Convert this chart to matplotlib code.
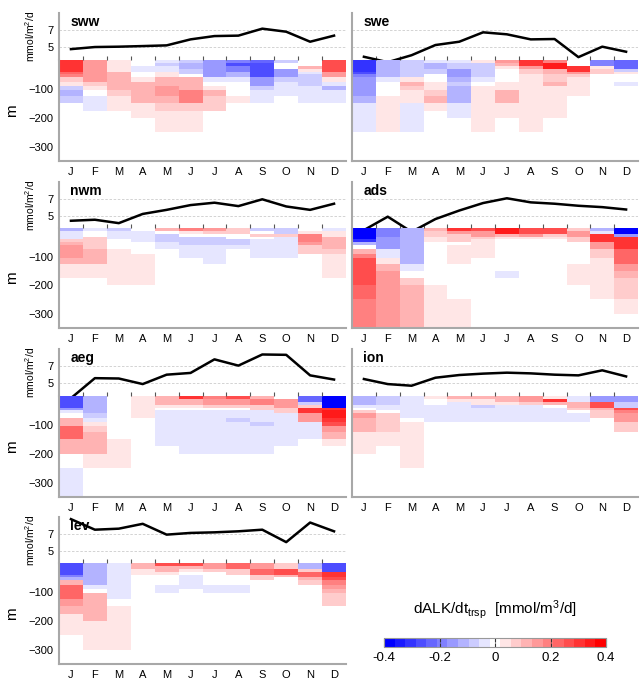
import matplotlib
matplotlib.use("Agg")
import matplotlib.pyplot as plt
import numpy as np
from matplotlib.colors import ListedColormap, BoundaryNorm
from matplotlib.ticker import NullLocator

plt.rcParams['font.family'] = ['Liberation Sans', 'DejaVu Sans']
plt.rcParams['mathtext.default'] = 'regular'

months = ["J", "F", "M", "A", "M", "J", "J", "A", "S", "O", "N", "D"]
depth_edges = [0, 10, 20, 30, 40, 50, 60, 75, 90, 105, 125, 150, 175, 200, 250, 300, 350]
regions = ["sww", "swe", "nwm", "ads", "aeg", "ion", "lev"]

# surface flux line (mmol/m2/d), one value per month
sww_flux = [4.8, 5.04, 5.08, 5.15, 5.23, 5.92, 6.3, 6.35, 7.15, 6.8, 5.65, 6.35]
swe_flux = [3.92, 3.3, 4.1, 5.27, 5.65, 6.73, 6.5, 5.92, 5.96, 3.88, 5.08, 4.5]
nwm_flux = [4.4, 4.52, 4.12, 5.2, 5.68, 6.24, 6.52, 6.12, 6.92, 6.08, 5.68, 6.4]
ads_flux = [3.3, 4.88, 3.1, 4.6, 5.6, 6.48, 7.04, 6.56, 6.4, 6.16, 6.0, 5.72]
aeg_flux = [3.3, 5.6, 5.56, 4.92, 6.0, 6.2, 7.76, 7.04, 8.32, 8.28, 5.92, 5.44]
ion_flux = [5.5, 4.92, 4.73, 5.65, 5.96, 6.12, 6.23, 6.15, 6.0, 5.92, 6.5, 5.8]
lev_flux = [8.7, 7.46, 7.58, 8.15, 6.88, 7.08, 7.15, 7.27, 7.46, 6.0, 8.3, 7.27]

# dALK/dt transport, hundredths of mmol/m3/d; one row per month, top layer first
sww_heat = [
    [30, 30, 30, 30, 22, 18, 8, 2, -8, -12, -6, 0, 0, 0, 0, 0],
    [15, 15, 15, 15, 15, 15, 15, 6, 3, 0, -5, -5, 0, 0, 0, 0],
    [5, 5, 5, 5, 12, 12, 12, 12, 12, 8, 5, 5, 0, 0, 0, 0],
    [0, 0, -5, -5, 0, 0, 5, 12, 12, 12, 10, 5, 5, 0, 0, 0],
    [-4, -6, -2, -2, 4, 4, 10, 10, 15, 15, 12, 8, 5, 5, 0, 0],
    [-6, -10, -10, -6, -6, 0, 12, 12, 12, 20, 20, 6, 5, 5, 0, 0],
    [-14, -14, -14, -14, -14, -14, -5, 0, 5, 10, 6, 6, 0, 0, 0, 0],
    [-20, -28, -18, -18, -10, -10, -5, 0, 0, 0, 5, 0, 0, 0, 0, 0],
    [-22, -28, -28, -28, -28, -28, -15, -15, -8, -5, -5, 0, 0, 0, 0, 0],
    [-6, 0, 0, -15, -15, -15, -8, -5, -5, -5, 0, 0, 0, 0, 0, 0],
    [0, 0, 10, 5, -5, -8, -8, -8, -5, -5, -5, 0, 0, 0, 0, 0],
    [25, 25, 25, 25, 15, 15, 4, -4, -10, -5, -5, 0, 0, 0, 0, 0],
]
swe_heat = [
    [-32, -32, -32, -32, -25, -20, -16, -16, -16, -16, -12, -5, -5, -5, 0, 0],
    [-12, -12, -12, -12, -12, -10, -3, 0, 0, 0, 4, 5, 5, 5, 0, 0],
    [-6, -6, -6, -6, -6, -6, 4, 10, 6, 5, 5, -5, -5, -5, 0, 0],
    [-5, -10, -10, -6, -6, 0, 0, 5, 5, 6, 10, 5, 0, 0, 0, 0],
    [-4, -6, -6, -14, -14, -14, -10, -6, -10, -10, -10, -5, -5, 0, 0, 0],
    [5, -6, -6, -6, -6, -6, -4, 0, 5, 5, 5, 5, 5, 5, 0, 0],
    [15, 12, 4, 0, 0, 0, 0, 4, 5, 10, 10, 5, 5, 0, 0, 0],
    [30, 30, 15, 8, 8, 5, 5, 5, 5, 5, 5, 5, 5, 5, 0, 0],
    [20, 35, 35, 12, 12, 6, 6, 10, 5, 5, 5, 5, 5, 0, 0, 0],
    [0, 0, 30, 30, 15, 8, 5, 5, 5, 5, 0, 0, 0, 0, 0, 0],
    [-20, -20, 4, 8, 8, 0, 0, 0, 0, 0, 0, 0, 0, 0, 0, 0],
    [-22, -22, -22, -8, 5, 0, 0, -5, 0, 0, 0, 0, 0, 0, 0, 0],
]
nwm_heat = [
    [-10, -4, -4, -2, 6, 12, 15, 15, 15, 10, 5, 5, 0, 0, 0, 0],
    [-5, 0, 0, 8, 6, 6, 6, 10, 10, 10, 5, 5, 0, 0, 0, 0],
    [-6, -4, -4, -4, 0, 0, 0, 5, 5, 5, 5, 5, 5, 0, 0, 0],
    [0, -4, -4, -4, -4, 0, 0, 0, 5, 5, 5, 5, 5, 0, 0, 0],
    [10, 0, -8, -8, -8, -4, -4, 0, 0, 0, 0, 0, 0, 0, 0, 0],
    [20, 5, 0, -8, -8, -8, -4, -4, -4, 0, 0, 0, 0, 0, 0, 0],
    [15, 6, 0, -8, -8, -8, -4, -4, -4, -4, 0, 0, 0, 0, 0, 0],
    [6, 8, 0, 0, -8, -8, -4, 0, 0, 0, 0, 0, 0, 0, 0, 0],
    [-6, 0, 6, 0, -4, -4, -4, -4, -4, 0, 0, 0, 0, 0, 0, 0],
    [-8, -8, 8, -2, -4, -4, -4, -4, -4, 0, 0, 0, 0, 0, 0, 0],
    [0, 5, 20, 20, 20, 15, 8, 8, 0, 0, 0, 0, 0, 0, 0, 0],
    [-5, 5, 5, 12, 12, 12, 12, 8, 5, 5, 5, 5, 0, 0, 0, 0],
]
ads_heat = [
    [-40, -40, -40, -40, -30, -12, 0, 12, 20, 28, 28, 28, 28, 22, 18, 18],
    [-20, -20, -20, -17, -17, -17, -17, -5, -3, 5, 12, 15, 15, 15, 15, 15],
    [-10, -10, -10, -10, -10, -10, -10, -10, -10, -10, -4, 0, 6, 10, 10, 10],
    [10, 8, 6, 5, 5, 0, 0, 0, 0, 0, 0, 0, 0, 5, 5, 5],
    [30, 15, 6, 6, 6, 0, 5, 5, 5, 5, 0, 0, 0, 0, 5, 5],
    [25, 15, 15, 6, 5, 5, 5, 5, 5, 0, 0, 0, 0, 0, 0, 0],
    [35, 35, 12, 5, 0, 0, 0, 0, 0, 0, 0, -5, 0, 0, 0, 0],
    [28, 28, 15, 5, 0, 0, 0, 0, 0, 0, 0, 0, 0, 0, 0, 0],
    [25, 25, 8, 4, 0, 0, 0, 0, 0, 0, 0, 0, 0, 0, 0, 0],
    [8, 15, 15, 6, 6, 0, 0, 0, 0, 0, 5, 5, 5, 0, 0, 0],
    [-10, -5, 30, 30, 30, 15, 15, 6, 6, 5, 5, 5, 5, 5, 0, 0],
    [-40, -40, -15, 30, 30, 30, 30, 22, 22, 22, 15, 10, 6, 6, 5, 0],
]
aeg_heat = [
    [-25, -25, -25, -25, -15, -5, 0, 10, 10, 22, 22, 12, 12, 0, -4, -4],
    [-12, -12, -12, -12, -12, -12, -8, -4, 2, 6, 10, 10, 10, 5, 0, 0],
    [0, 0, 0, 0, 0, 0, 0, 0, 0, 0, 0, 5, 5, 5, 0, 0],
    [5, 5, 5, 5, 5, 5, 2, 0, 0, 0, 0, 0, 0, 0, 0, 0],
    [12, 10, 10, 5, 0, -4, -4, -4, -4, -4, -4, -4, 0, 0, 0, 0],
    [30, 12, 12, 5, 0, -4, -4, -4, -4, -4, -4, -4, -4, 0, 0, 0],
    [20, 15, 15, 6, 0, -4, -4, -4, -4, -4, -4, -4, -4, 0, 0, 0],
    [25, 15, 15, 6, 0, -4, -4, -6, -4, -4, -4, -4, -4, 0, 0, 0],
    [12, 18, 18, 6, 6, -4, -4, -4, -8, -4, -4, -4, -4, 0, 0, 0],
    [0, 15, 15, 15, 6, 6, -4, -4, -4, -4, -4, -4, 0, 0, 0, 0],
    [-22, -22, -8, 8, 30, 30, 15, 15, -4, -4, -4, 0, 0, 0, 0, 0],
    [-40, -40, -40, -40, 30, 35, 35, 30, 25, 15, 10, 5, 0, 0, 0, 0],
]
ion_heat = [
    [-12, -12, -12, -5, 0, 8, 15, 12, 10, 10, 5, 5, 5, 0, 0, 0],
    [-8, -8, -8, -3, -3, 0, 8, 8, 8, 8, 5, 5, 0, 0, 0, 0],
    [-4, -4, -4, -4, -4, -4, -2, 0, 2, 5, 5, 5, 5, 5, 0, 0],
    [5, 0, 0, -4, -4, -4, -4, -2, 0, 0, 0, 0, 0, 0, 0, 0],
    [10, 3, -4, -4, -4, -4, -4, -2, 0, 0, 0, 0, 0, 0, 0, 0],
    [10, 5, 5, -6, -4, -4, -4, -2, 0, 0, 0, 0, 0, 0, 0, 0],
    [12, 12, 5, -4, -4, -4, -4, -2, 0, 0, 0, 0, 0, 0, 0, 0],
    [15, 15, 6, -4, -4, -4, -4, -2, 0, 0, 0, 0, 0, 0, 0, 0],
    [5, 30, 10, 0, -4, -4, -4, -2, 0, 0, 0, 0, 0, 0, 0, 0],
    [-4, -4, 12, 12, 6, 0, -4, -2, 0, 0, 0, 0, 0, 0, 0, 0],
    [-15, -15, 25, 25, 12, 6, 6, 0, 0, 0, 0, 0, 0, 0, 0, 0],
    [-15, -15, -8, -8, 25, 20, 15, 15, 6, 6, 0, 0, 0, 0, 0, 0],
]
lev_heat = [
    [-28, -28, -28, -28, -20, -10, 10, 22, 22, 22, 15, 10, 5, 5, 0, 0],
    [-12, -12, -12, -12, -12, -12, -12, -3, 0, 10, 10, 10, 10, 5, 5, 0],
    [-5, -5, -5, -5, -5, -5, -5, -5, -5, -5, 0, 5, 5, 5, 5, 0],
    [10, 10, 5, 5, 0, 0, 0, 0, 0, 0, 0, 0, 0, 0, 0, 0],
    [25, 10, 10, 4, 0, 0, 0, -4, -4, 0, 0, 0, 0, 0, 0, 0],
    [25, 10, 5, 0, -4, -4, -4, -4, 0, 0, 0, 0, 0, 0, 0, 0],
    [15, 15, 6, 0, 0, 0, 0, -4, -4, 0, 0, 0, 0, 0, 0, 0],
    [22, 22, 8, 6, 0, 0, 0, -4, -4, 0, 0, 0, 0, 0, 0, 0],
    [15, 15, 22, 22, 6, 6, 0, 0, 0, 0, 0, 0, 0, 0, 0, 0],
    [6, 6, 25, 25, 10, 0, 0, 0, 0, 0, 0, 0, 0, 0, 0, 0],
    [-12, -12, 6, 22, 22, 12, 6, 0, 0, 0, 0, 0, 0, 0, 0, 0],
    [-28, -28, -28, 30, 30, 25, 20, 15, 10, 6, 6, 0, 0, 0, 0, 0],
]

fluxes = [sww_flux, swe_flux, nwm_flux, ads_flux, aeg_flux, ion_flux, lev_flux]
heats = [sww_heat, swe_heat, nwm_heat, ads_heat, aeg_heat, ion_heat, lev_heat]

# 21 discrete colours blue -> white -> red
cols = []
for i in range(21):
    if i < 10:
        cols.append((i / 10, i / 10, 1.0))
    elif i == 10:
        cols.append((1.0, 1.0, 1.0))
    else:
        cols.append((1.0, (20 - i) / 10, (20 - i) / 10))
cmap = ListedColormap(cols)
norm = BoundaryNorm(np.linspace(-0.4, 0.4, 22), cmap.N)

W, H = 643, 679
fig = plt.figure(figsize=(W / 100, H / 100), dpi=100)


def add_px_axes(x0, y0, x1, y1):
    return fig.add_axes([x0 / W, 1 - y1 / H, (x1 - x0) / W, (y1 - y0) / H])


col_x = [(59, 346), (352, 638)]
row_y = [(13, 60, 161), (182, 228, 328), (349, 396, 497), (517, 563, 664)]
spine_c = "#a8a8a8"

x_edges = np.arange(13)
y_edges = -np.array(depth_edges)
x_mid = np.arange(12) + 0.5

for k, name in enumerate(regions):
    r, c = divmod(k, 2)
    x0, x1 = col_x[c]
    yt, ym, yb = row_y[r]

    # heat map of the transport term
    ax = add_px_axes(x0, ym, x1, yb)
    data = np.array(heats[k]).T / 100.0
    ax.pcolormesh(x_edges, y_edges, data, cmap=cmap, norm=norm)
    ax.set_xlim(0, 12)
    ax.set_ylim(-350, 0)
    ax.set_xticks(x_mid)
    ax.set_xticklabels(months, fontsize=8.5)
    ax.set_yticks([-100, -200, -300])
    ax.tick_params(length=0, labelsize=8, pad=4)
    for s in ["top", "right"]:
        ax.spines[s].set_visible(False)
    for s in ["left", "bottom"]:
        ax.spines[s].set_color(spine_c)
        ax.spines[s].set_linewidth(1.5)
    if c == 0:
        ax.set_ylabel("m", fontsize=11)
        ax.yaxis.set_label_coords(-0.14, 0.5)
    else:
        ax.set_yticklabels([])

    # surface line above
    lx = add_px_axes(x0, yt, x1, ym)
    lx.plot(x_mid, fluxes[k], color="black", lw=1.8)
    lx.set_xlim(0, 12)
    lx.set_ylim(3.55, 8.95)
    lx.set_yticks([5, 7])
    for v in [5, 7]:
        lx.axhline(v, color="#cccccc", lw=0.6, ls=(0, (3, 2)), zorder=0)
    lx.set_xticks(np.arange(1, 12))
    lx.tick_params(axis="x", direction="in", length=3, color="#555555", labelbottom=False)
    lx.tick_params(axis="y", length=0, labelsize=8, pad=4)
    for s in ["top", "right", "bottom"]:
        lx.spines[s].set_visible(False)
    lx.spines["left"].set_color(spine_c)
    lx.spines["left"].set_linewidth(1.5)
    lx.patch.set_alpha(0)
    if c == 0:
        lx.set_ylabel("mmol/m$^2$/d", fontsize=7.5)
        lx.yaxis.set_label_coords(-0.075, 0.5)
    else:
        lx.set_yticklabels([])
    lx.text(0.04, 0.8, name, transform=lx.transAxes, fontsize=10,
            fontweight="bold", va="center", ha="left")

# colour bar
cax = add_px_axes(384, 638, 606, 647)
sm = plt.cm.ScalarMappable(cmap=cmap, norm=norm)
cb = fig.colorbar(sm, cax=cax, orientation="horizontal", drawedges=False)
cb.set_ticks([-0.4, -0.2, 0, 0.2, 0.4])
cb.set_ticklabels(["-0.4", "-0.2", "0", "0.2", "0.4"])
cb.ax.xaxis.set_minor_locator(NullLocator())
cb.ax.tick_params(which="major", labelsize=9.5, length=3, direction="in",
                  top=True, color="#333333")
cb.ax.tick_params(which="minor", length=0)
cb.outline.set_edgecolor("#999999")
fig.text(495 / W, 1 - 610 / H, "dALK/dt$_{trsp}$  [mmol/m$^3$/d]",
         ha="center", va="center", fontsize=11)

fig.savefig("out.png", dpi=100)
